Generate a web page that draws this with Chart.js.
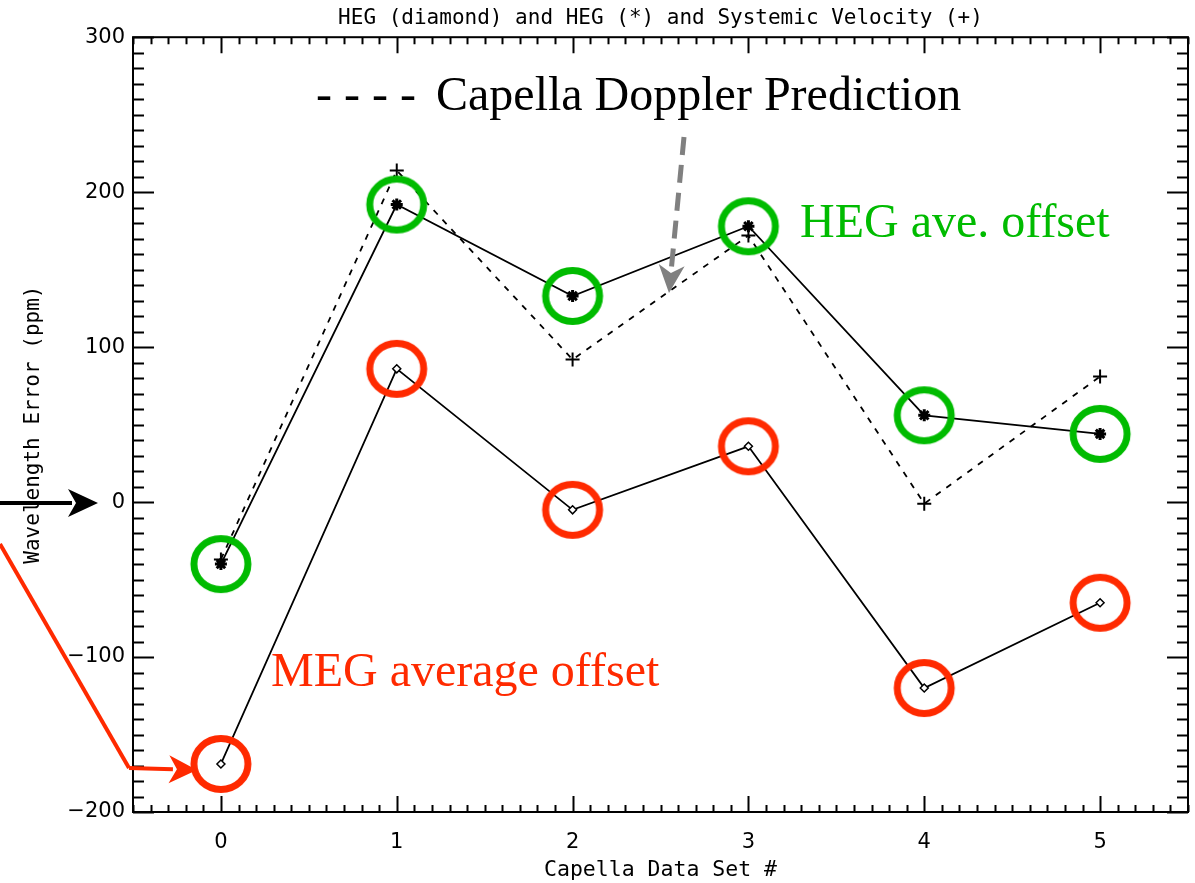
<!DOCTYPE html>
<html>
<head>
<meta charset="utf-8">
<script src="https://cdn.jsdelivr.net/npm/chart.js@4/dist/chart.umd.min.js"></script>
<style>
  html, body { margin: 0; padding: 0; background: #fff; }
</style>
</head>
<body>
<canvas id="chart" width="1195" height="883"></canvas>
<script>
// values
const dataSetNums = [0, 1, 2, 3, 4, 5];
const megOffset = [-169, 86, -5, 36, -120, -65];
const hegOffset = [-40, 192, 133, 178, 56, 44];
const dopplerPrediction = [-37, 214, 92, 172, -1, 81];
const xTickValues = [0, 1, 2, 3, 4, 5];
const yTickValues = [-200, -100, 0, 100, 200, 300];

const GREEN = '#00bb00';
const RED = '#ff2a00';

const pts = (ys) => dataSetNums.map((x, i) => ({ x: x, y: ys[i] }));

// slightly flattened ring used as a point style
function ring(color) {
  const c = document.createElement('canvas');
  c.width = 70;
  c.height = 66;
  const g = c.getContext('2d');
  g.strokeStyle = color;
  g.lineWidth = 7;
  g.beginPath();
  g.ellipse(35, 33, 27, 25.5, 0, 0, Math.PI * 2);
  g.stroke();
  return c;
}

// frame with inward major/minor ticks on all four sides
const idlFrame = {
  id: 'idlFrame',
  afterDatasetsDraw(chart) {
    const { ctx, chartArea: a, scales: { x, y } } = chart;
    ctx.save();
    ctx.strokeStyle = '#000';
    ctx.lineWidth = 2;
    ctx.strokeRect(a.left, a.top, a.right - a.left, a.bottom - a.top);
    ctx.beginPath();
    for (let i = -5; i <= 55; i++) {
      const px = Math.round(x.getPixelForValue(i / 10)) + 0.5;
      const len = i % 10 === 0 ? 16 : 7;
      ctx.moveTo(px, a.bottom); ctx.lineTo(px, a.bottom - len);
      ctx.moveTo(px, a.top); ctx.lineTo(px, a.top + len);
    }
    for (let v = -200; v <= 300; v += 10) {
      const py = Math.round(y.getPixelForValue(v)) + 0.5;
      const len = v % 100 === 0 ? 21 : 11;
      ctx.moveTo(a.left, py); ctx.lineTo(a.left + len, py);
      ctx.moveTo(a.right, py); ctx.lineTo(a.right - len, py);
    }
    ctx.stroke();
    ctx.restore();
  }
};

function arrow(ctx, x0, y0, x1, y1, color, width, dash, len, half) {
  const ang = Math.atan2(y1 - y0, x1 - x0);
  const bx = x1 - Math.cos(ang) * (len - 4);
  const by = y1 - Math.sin(ang) * (len - 4);
  ctx.save();
  ctx.strokeStyle = color;
  ctx.fillStyle = color;
  ctx.lineWidth = width;
  ctx.setLineDash(dash);
  ctx.beginPath();
  ctx.moveTo(x0, y0);
  ctx.lineTo(bx, by);
  ctx.stroke();
  ctx.setLineDash([]);
  ctx.translate(x1, y1);
  ctx.rotate(ang);
  ctx.beginPath();
  ctx.moveTo(0, 0);
  ctx.lineTo(-len, -half);
  ctx.lineTo(-len + 8, 0);
  ctx.lineTo(-len, half);
  ctx.closePath();
  ctx.fill();
  ctx.restore();
}

// overlaid labels and arrows
const notes = {
  id: 'notes',
  afterDraw(chart) {
    const { ctx, scales: { x, y } } = chart;
    ctx.save();
    ctx.textBaseline = 'alphabetic';
    ctx.textAlign = 'left';
    ctx.font = '48px "Liberation Serif"';
    ctx.fillStyle = '#000';
    ctx.fillText('- - - -', 316, 110);
    ctx.fillText('Capella Doppler Prediction', 436, 110);
    ctx.fillStyle = GREEN;
    ctx.fillText('HEG ave. offset', 800, 237);
    ctx.fillStyle = RED;
    ctx.fillText('MEG average offset', 271, 686);
    ctx.restore();

    arrow(ctx, 684, 137, 669, 293, '#808080', 5, [18, 10], 28, 13);

    const zeroY = y.getPixelForValue(0) + 1;
    arrow(ctx, 0, zeroY, 98, zeroY, '#000', 4, [], 30, 14);

    const megY = y.getPixelForValue(megOffset[0]);
    ctx.save();
    ctx.strokeStyle = RED;
    ctx.lineWidth = 4;
    ctx.beginPath();
    ctx.moveTo(0, 544);
    ctx.lineTo(129, megY + 4);
    ctx.stroke();
    ctx.restore();
    arrow(ctx, 129, megY + 4, x.getPixelForValue(0) - 24, megY + 6, RED, 4, [], 28, 14);
  }
};

const ctx = document.getElementById('chart').getContext('2d');
const chart = new Chart(ctx, {
  type: 'line',
  data: {
    datasets: [
      {
        label: 'HEG circles',
        data: pts(hegOffset),
        showLine: false,
        pointStyle: ring(GREEN),
        pointRadius: 30,
        order: 0
      },
      {
        label: 'MEG circles',
        data: pts(megOffset),
        showLine: false,
        pointStyle: ring(RED),
        pointRadius: 30,
        order: 0
      },
      {
        label: 'MEG',
        data: pts(megOffset),
        borderColor: '#000',
        borderWidth: 1.8,
        pointStyle: 'rectRot',
        pointRadius: 4,
        pointBorderWidth: 1.5,
        pointBorderColor: '#000',
        pointBackgroundColor: '#fff',
        order: 1
      },
      {
        label: 'HEG',
        data: pts(hegOffset),
        borderColor: '#000',
        borderWidth: 1.8,
        pointStyle: 'star',
        pointRadius: 6,
        pointBorderWidth: 3,
        pointBorderColor: '#000',
        order: 1
      },
      {
        label: 'Systemic Velocity',
        data: pts(dopplerPrediction),
        borderColor: '#000',
        borderWidth: 1.8,
        borderDash: [6, 7],
        pointStyle: 'cross',
        pointRadius: 7,
        pointBorderWidth: 2,
        pointBorderColor: '#000',
        order: 1
      }
    ]
  },
  options: {
    responsive: false,
    animation: false,
    events: [],
    layout: { autoPadding: false, padding: { left: 0, right: 7, top: 0, bottom: 0 } },
    plugins: {
      legend: { display: false },
      tooltip: { enabled: false },
      title: {
        display: true,
        fullSize: false,
        text: 'HEG (diamond) and HEG (*) and Systemic Velocity (+)',
        color: '#000',
        font: { family: '"DejaVu Sans Mono"', size: 21, weight: 'normal' },
        padding: { top: 6, bottom: 6 }
      }
    },
    scales: {
      x: {
        type: 'linear',
        position: 'bottom',
        min: -0.5,
        max: 5.5,
        afterFit(s) { s.height = 71; },
        afterBuildTicks(s) { s.ticks = xTickValues.map(v => ({ value: v })); },
        grid: { display: false, drawTicks: false },
        border: { display: false },
        ticks: {
          color: '#000',
          padding: 18,
          maxRotation: 0,
          font: { family: '"DejaVu Sans"', size: 21 }
        },
        title: {
          display: true,
          text: 'Capella Data Set #',
          color: '#000',
          font: { family: '"DejaVu Sans Mono"', size: 21.5 },
          padding: { top: 0, bottom: 0 }
        }
      },
      y: {
        type: 'linear',
        position: 'left',
        min: -200,
        max: 300,
        afterFit(s) { s.width = 133; },
        afterBuildTicks(s) { s.ticks = yTickValues.map(v => ({ value: v })); },
        grid: { display: false, drawTicks: false },
        border: { display: false },
        ticks: {
          color: '#000',
          padding: 8,
          font: { family: '"DejaVu Sans"', size: 21 },
          callback: (v) => (v < 0 ? '\u2212' + Math.abs(v) : String(v))
        },
        title: {
          display: true,
          text: 'Wavelength Error (ppm)',
          color: '#000',
          font: { family: '"DejaVu Sans Mono"', size: 21 },
          padding: { top: 21, bottom: 0 }
        }
      }
    }
  },
  plugins: [idlFrame, notes]
});
</script>
</body>
</html>
